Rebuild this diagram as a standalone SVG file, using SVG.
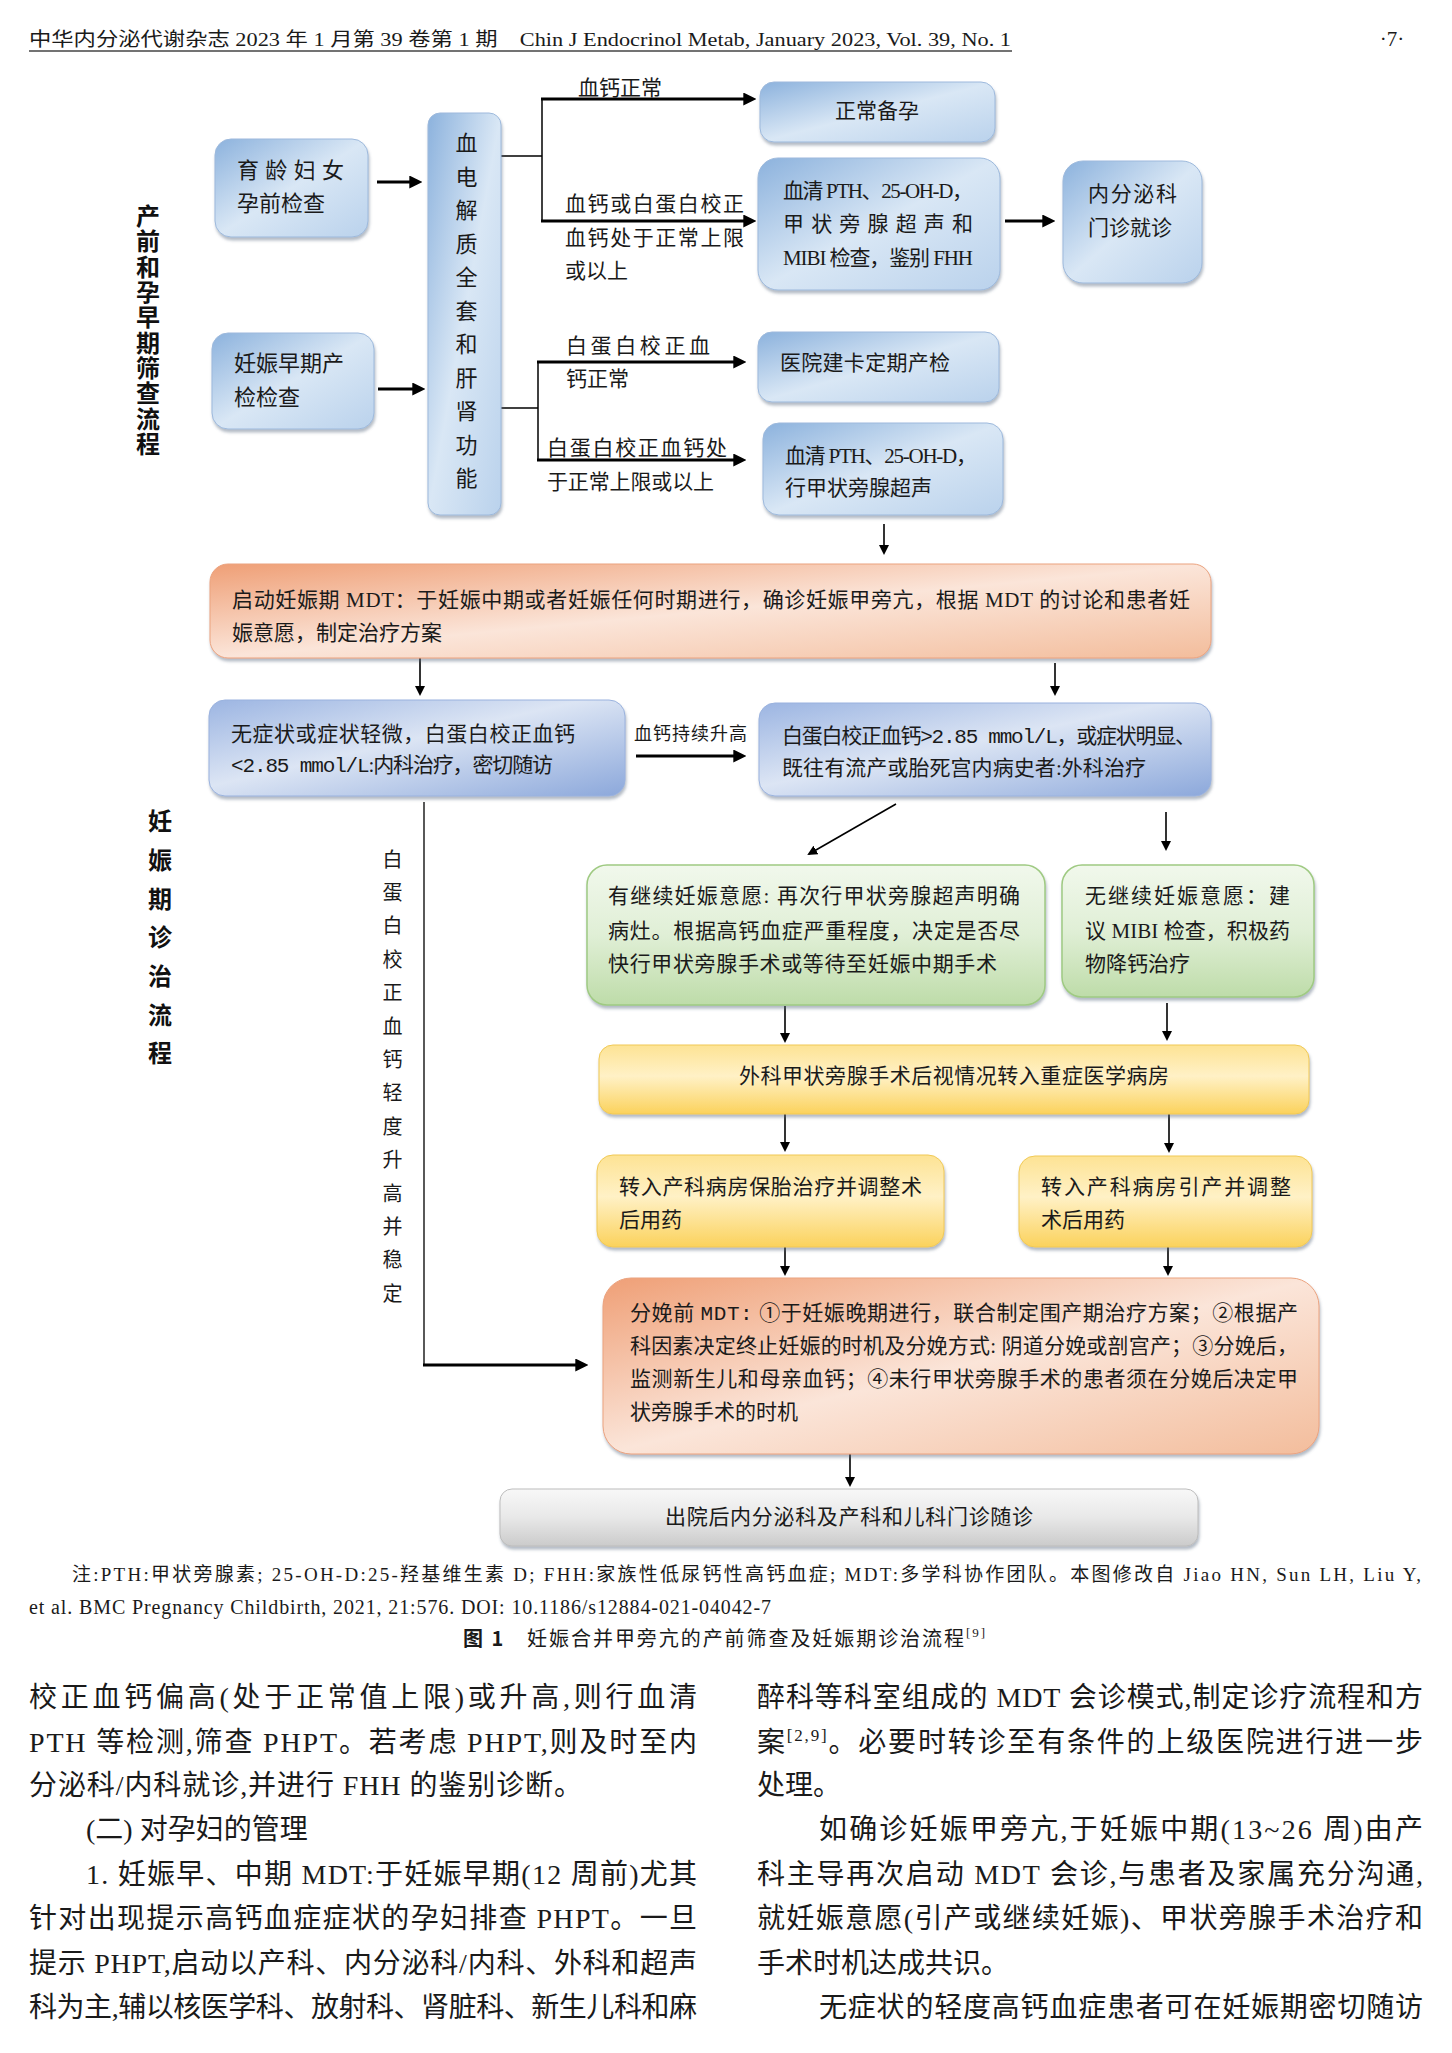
<svg xmlns="http://www.w3.org/2000/svg" width="1452" height="2053" viewBox="0 0 1452 2053">
<defs>
<style>
.t{font-family:'Liberation Serif','Noto Sans CJK SC',serif;fill:#1a1a1a}
.s21{font-size:21px}
.s22{font-size:22px}
.s18{font-size:18px}
.s20{font-size:20px}
.s19{font-size:19px}
.body{font-size:28px}
.ttl{font-family:'Noto Sans CJK SC',sans-serif;font-weight:700;font-size:24px;fill:#111}
.vt{writing-mode:vertical-rl}
.mono{font-family:'Liberation Mono','Noto Sans CJK SC',monospace}
.ln{stroke:#000;fill:none}
.thick{stroke-width:3}
.thin{stroke-width:1.6}
.bxb{fill:url(#gBlue);stroke:#9db9dc;stroke-width:1;filter:url(#sh)}
.bxb2{fill:url(#gBlue2);stroke:#9ab2de;stroke-width:1;filter:url(#sh)}
.bxo{fill:url(#gOr);stroke:#eba37f;stroke-width:1;filter:url(#sh)}
.bxg{fill:url(#gGr);stroke:#9fca82;stroke-width:1.5;filter:url(#sh)}
.bxy{fill:url(#gYe);stroke:#f0c955;stroke-width:1;filter:url(#sh)}
.bxgr{fill:url(#gGy);stroke:#bdbdbd;stroke-width:1;filter:url(#sh)}
</style>
<linearGradient id="gBlue" x1="0" y1="0" x2="1" y2="1">
<stop offset="0" stop-color="#8cb2dd"/><stop offset="0.5" stop-color="#d9e7f5"/><stop offset="1" stop-color="#bad2ec"/>
</linearGradient>
<linearGradient id="gBlue2" x1="0" y1="0" x2="1" y2="1">
<stop offset="0" stop-color="#9cb5e2"/><stop offset="0.45" stop-color="#dce5f4"/><stop offset="1" stop-color="#8ca8db"/>
</linearGradient>
<linearGradient id="gOr" x1="0" y1="0" x2="1" y2="1">
<stop offset="0" stop-color="#ef9f76"/><stop offset="0.5" stop-color="#fbe5d9"/><stop offset="1" stop-color="#f3bd9c"/>
</linearGradient>
<linearGradient id="gGr" x1="0" y1="0" x2="0" y2="1">
<stop offset="0" stop-color="#f1f8ec"/><stop offset="0.5" stop-color="#e0efd6"/><stop offset="1" stop-color="#bedca9"/>
</linearGradient>
<linearGradient id="gYe" x1="0" y1="0" x2="0" y2="1">
<stop offset="0" stop-color="#fde394"/><stop offset="0.45" stop-color="#fff1c6"/><stop offset="1" stop-color="#fbd25c"/>
</linearGradient>
<linearGradient id="gGy" x1="0" y1="0" x2="0" y2="1">
<stop offset="0" stop-color="#f8f8f8"/><stop offset="0.5" stop-color="#e8e8e8"/><stop offset="1" stop-color="#cbcbcb"/>
</linearGradient>
<filter id="sh" x="-5%" y="-10%" width="112%" height="130%">
<feDropShadow dx="1" dy="3" stdDeviation="1.5" flood-color="#56677f" flood-opacity="0.45"/>
</filter>
<marker id="ah" viewBox="0 0 12 12" refX="8" refY="6" markerWidth="13" markerHeight="13" markerUnits="userSpaceOnUse" orient="auto">
<path d="M0,0 L12,6 L0,12 z" fill="#000"/>
</marker>
<marker id="ahs" viewBox="0 0 10 10" refX="8" refY="5" markerWidth="10" markerHeight="11" markerUnits="userSpaceOnUse" orient="auto">
<path d="M0,0 L10,5 L0,10 z" fill="#000"/>
</marker>
</defs>
<rect x="0" y="0" width="1452" height="2053" fill="#fff"/>

<g id="header">
<text class="t" x="29" y="46" font-size="19" textLength="982" lengthAdjust="spacingAndGlyphs">中华内分泌代谢杂志 2023 年 1 月第 39 卷第 1 期　Chin J Endocrinol Metab, January 2023, Vol. 39, No. 1</text>
<line x1="29" y1="51" x2="1012" y2="51" stroke="#444" stroke-width="1.5"/>
<text class="t" x="1392" y="46" font-size="21" text-anchor="middle">·7·</text>
</g>

<g id="title-1">
<text class="ttl vt" x="148" y="204" letter-spacing="1.3">产前和孕早期筛查流程</text>
</g>

<g id="connectors">
<line class="ln thick" x1="377" y1="182" x2="418" y2="182" marker-end="url(#ah)"/>
<line class="ln thick" x1="378" y1="389" x2="421" y2="389" marker-end="url(#ah)"/>
<line class="ln" stroke-width="1.5" x1="501" y1="156" x2="542" y2="156"/>
<line class="ln" stroke-width="1.5" x1="542" y1="98" x2="542" y2="222"/>
<line class="ln thick" x1="541" y1="99" x2="752" y2="99" marker-end="url(#ah)"/>
<line class="ln thick" x1="541" y1="221" x2="752" y2="221" marker-end="url(#ah)"/>
<line class="ln" stroke-width="1.5" x1="501" y1="408" x2="538" y2="408"/>
<line class="ln" stroke-width="1.5" x1="538" y1="361" x2="538" y2="461"/>
<line class="ln thick" x1="537" y1="362" x2="742" y2="362" marker-end="url(#ah)"/>
<line class="ln thick" x1="537" y1="460" x2="742" y2="460" marker-end="url(#ah)"/>
<line class="ln thick" x1="1005" y1="221" x2="1051" y2="221" marker-end="url(#ah)"/>
<line class="ln thin" x1="884" y1="524" x2="884" y2="553" marker-end="url(#ahs)"/>
<line class="ln thin" x1="420" y1="658" x2="420" y2="694" marker-end="url(#ahs)"/>
<line class="ln thin" x1="1055" y1="663" x2="1055" y2="694" marker-end="url(#ahs)"/>
<line class="ln thick" x1="636" y1="756" x2="742" y2="756" marker-end="url(#ah)"/>
<line class="ln thin" x1="896" y1="804" x2="809" y2="854" marker-end="url(#ahs)"/>
<line class="ln thin" x1="1166" y1="812" x2="1166" y2="849" marker-end="url(#ahs)"/>
<polyline class="ln" stroke-width="1.3" points="424,802 424,1365 428,1365"/>
<line class="ln thick" x1="423" y1="1365" x2="584" y2="1365" marker-end="url(#ah)"/>
<line class="ln thin" x1="785" y1="1006" x2="785" y2="1041" marker-end="url(#ahs)"/>
<line class="ln thin" x1="1167" y1="1003" x2="1167" y2="1039" marker-end="url(#ahs)"/>
<line class="ln thin" x1="785" y1="1114" x2="785" y2="1150" marker-end="url(#ahs)"/>
<line class="ln thin" x1="1169" y1="1114" x2="1169" y2="1151" marker-end="url(#ahs)"/>
<line class="ln thin" x1="785" y1="1247" x2="785" y2="1274" marker-end="url(#ahs)"/>
<line class="ln thin" x1="1168" y1="1247" x2="1168" y2="1274" marker-end="url(#ahs)"/>
<line class="ln thin" x1="850" y1="1454" x2="850" y2="1485" marker-end="url(#ahs)"/>
</g>

<g id="labels">
<text class="t s21" x="578" y="95" textLength="84">血钙正常</text>
<text class="t s21" x="565" y="211" textLength="179">血钙或白蛋白校正</text>
<text class="t s21" x="565" y="245" textLength="179">血钙处于正常上限</text>
<text class="t s21" x="565" y="278">或以上</text>
<text class="t s21" x="566" y="353" textLength="144">白蛋白校正血</text>
<text class="t s21" x="566" y="386">钙正常</text>
<text class="t s21" x="547" y="455" textLength="180">白蛋白校正血钙处</text>
<text class="t s21" x="547" y="489" textLength="167">于正常上限或以上</text>
<text class="t s18" x="634" y="740" textLength="113">血钙持续升高</text>
<text class="t s20 vt" x="391" y="849" letter-spacing="13.4">白蛋白校正血钙轻度升高并稳定</text>
</g>

<g id="node-preconception">
<rect class="bxb" x="215" y="139" width="153" height="98" rx="16"/>
<text class="t s22" x="237" y="178" textLength="107">育龄妇女</text>
<text class="t s22" x="237" y="211">孕前检查</text>
</g>
<g id="node-early-pregnancy">
<rect class="bxb" x="212" y="333" width="162" height="96" rx="16"/>
<text class="t s22" x="234" y="371" textLength="110">妊娠早期产</text>
<text class="t s22" x="234" y="405">检检查</text>
</g>
<g id="node-blood-tests">
<rect class="bxb" x="428" y="113" width="73" height="402" rx="12"/>
<text class="t s22 vt" x="464" y="132" letter-spacing="11.5">血电解质全套和肝肾功能</text>
</g>
<g id="node-normal">
<rect class="bxb" x="760" y="82" width="235" height="60" rx="14"/>
<text class="t s21" x="877" y="118" text-anchor="middle">正常备孕</text>
</g>
<g id="node-pth1">
<rect class="bxb" x="758" y="158" width="242" height="132" rx="20"/>
<text class="t s21" x="783" y="198" textLength="190">血清 PTH、25-OH-D，</text>
<text class="t s21" x="783" y="231" textLength="190">甲状旁腺超声和</text>
<text class="t s21" x="783" y="265" textLength="190">MIBI 检查，鉴别 FHH</text>
</g>
<g id="node-endo">
<rect class="bxb" x="1063" y="161" width="139" height="122" rx="20"/>
<text class="t s21" x="1088" y="201" textLength="89">内分泌科</text>
<text class="t s21" x="1088" y="235">门诊就诊</text>
</g>
<g id="node-prenatal">
<rect class="bxb" x="758" y="332" width="241" height="70" rx="14"/>
<text class="t s21" x="780" y="370" textLength="170">医院建卡定期产检</text>
</g>
<g id="node-pth2">
<rect class="bxb" x="763" y="423" width="240" height="92" rx="16"/>
<text class="t s21" x="785" y="463" textLength="192">血清 PTH、25-OH-D，</text>
<text class="t s21" x="785" y="495">行甲状旁腺超声</text>
</g>

<g id="title-2">
<text class="ttl vt" x="160" y="809" letter-spacing="14.7">妊娠期诊治流程</text>
</g>

<g id="node-mdt1">
<rect class="bxo" x="210" y="564" width="1001" height="94" rx="18"/>
<text class="t s21" x="232" y="607" textLength="958">启动妊娠期 MDT：于妊娠中期或者妊娠任何时期进行，确诊妊娠甲旁亢，根据 MDT 的讨论和患者妊</text>
<text class="t s21" x="232" y="640">娠意愿，制定治疗方案</text>
</g>
<g id="node-medical">
<rect class="bxb2" x="209" y="700" width="416" height="96" rx="16"/>
<text class="t s21" x="231" y="741" textLength="344">无症状或症状轻微，白蛋白校正血钙</text>
<text class="t s21" x="231" y="772" textLength="322"><tspan class="mono">&lt;2.85 mmol/L</tspan>:内科治疗，密切随访</text>
</g>
<g id="node-surgical">
<rect class="bxb2" x="759" y="703" width="452" height="93" rx="16"/>
<text class="t s21" x="782" y="743" textLength="414">白蛋白校正血钙<tspan class="mono">&gt;2.85 mmol/L</tspan>，或症状明显、</text>
<text class="t s21" x="782" y="775" textLength="364">既往有流产或胎死宫内病史者:外科治疗</text>
</g>
<g id="node-continue">
<rect class="bxg" x="587" y="865" width="458" height="140" rx="20"/>
<text class="t s21" x="608" y="903" textLength="412">有继续妊娠意愿: 再次行甲状旁腺超声明确</text>
<text class="t s21" x="608" y="938" textLength="412">病灶。根据高钙血症严重程度，决定是否尽</text>
<text class="t s21" x="608" y="971" textLength="389">快行甲状旁腺手术或等待至妊娠中期手术</text>
</g>
<g id="node-terminate">
<rect class="bxg" x="1062" y="865" width="252" height="132" rx="20"/>
<text class="t s21" x="1085" y="903" textLength="205">无继续妊娠意愿：建</text>
<text class="t s21" x="1085" y="938" textLength="205">议 MIBI 检查，积极药</text>
<text class="t s21" x="1085" y="971">物降钙治疗</text>
</g>
<g id="node-icu">
<rect class="bxy" x="599" y="1045" width="710" height="69" rx="14"/>
<text class="t s21" x="954" y="1083" text-anchor="middle" textLength="430">外科甲状旁腺手术后视情况转入重症医学病房</text>
</g>
<g id="node-keep">
<rect class="bxy" x="597" y="1155" width="347" height="92" rx="16"/>
<text class="t s21" x="619" y="1194" textLength="303">转入产科病房保胎治疗并调整术</text>
<text class="t s21" x="619" y="1227">后用药</text>
</g>
<g id="node-induce">
<rect class="bxy" x="1019" y="1156" width="293" height="91" rx="16"/>
<text class="t s21" x="1041" y="1194" textLength="250">转入产科病房引产并调整</text>
<text class="t s21" x="1041" y="1227">术后用药</text>
</g>
<g id="node-mdt2">
<rect class="bxo" x="603" y="1278" width="716" height="176" rx="28"/>
<text class="t s21" x="630" y="1320" textLength="668">分娩前 <tspan class="mono">MDT:</tspan> ①于妊娠晚期进行，联合制定围产期治疗方案；②根据产</text>
<text class="t s21" x="630" y="1353" textLength="668">科因素决定终止妊娠的时机及分娩方式: 阴道分娩或剖宫产；③分娩后，</text>
<text class="t s21" x="630" y="1386" textLength="668">监测新生儿和母亲血钙；④未行甲状旁腺手术的患者须在分娩后决定甲</text>
<text class="t s21" x="630" y="1419">状旁腺手术的时机</text>
</g>
<g id="node-followup">
<rect class="bxgr" x="500" y="1489" width="698" height="57" rx="12"/>
<text class="t s21" x="849" y="1524" text-anchor="middle" textLength="368">出院后内分泌科及产科和儿科门诊随诊</text>
</g>

<g id="notes">
<text class="t s19" x="72" y="1581" textLength="1349">注:PTH:甲状旁腺素; 25-OH-D:25-羟基维生素 D; FHH:家族性低尿钙性高钙血症; MDT:多学科协作团队。本图修改自 Jiao HN, Sun LH, Liu Y,</text>
<text class="t" font-size="20" x="29" y="1614" textLength="742">et al. BMC Pregnancy Childbirth, 2021, 21:576. DOI: 10.1186/s12884-021-04042-7</text>
<text class="t" font-size="20" x="463" y="1646" textLength="522"><tspan font-family="'Noto Sans CJK SC',sans-serif" font-weight="700">图 1</tspan>　妊娠合并甲旁亢的产前筛查及妊娠期诊治流程<tspan font-size="13" dy="-9">[9]</tspan></text>
</g>

<g id="body-text">
<text class="t body" x="29" y="1707" textLength="668">校正血钙偏高(处于正常值上限)或升高,则行血清</text>
<text class="t body" x="29" y="1752" textLength="668">PTH 等检测,筛查 PHPT。若考虑 PHPT,则及时至内</text>
<text class="t body" x="29" y="1795" textLength="553">分泌科/内科就诊,并进行 FHH 的鉴别诊断。</text>
<text class="t body" x="86" y="1839">(二) 对孕妇的管理</text>
<text class="t body" x="86" y="1884" textLength="611">1. 妊娠早、中期 MDT:于妊娠早期(12 周前)尤其</text>
<text class="t body" x="29" y="1928" textLength="668">针对出现提示高钙血症症状的孕妇排查 PHPT。一旦</text>
<text class="t body" x="29" y="1973" textLength="668">提示 PHPT,启动以产科、内分泌科/内科、外科和超声</text>
<text class="t body" x="29" y="2017" textLength="668">科为主,辅以核医学科、放射科、肾脏科、新生儿科和麻</text>
<text class="t body" x="757" y="1707" textLength="666">醉科等科室组成的 MDT 会诊模式,制定诊疗流程和方</text>
<text class="t body" x="757" y="1752" textLength="666">案<tspan font-size="17" dy="-11">[2,9]</tspan><tspan dy="11">。必要时转诊至有条件的上级医院进行进一步</tspan></text>
<text class="t body" x="757" y="1795">处理。</text>
<text class="t body" x="819" y="1839" textLength="604">如确诊妊娠甲旁亢,于妊娠中期(13~26 周)由产</text>
<text class="t body" x="757" y="1884" textLength="666">科主导再次启动 MDT 会诊,与患者及家属充分沟通,</text>
<text class="t body" x="757" y="1928" textLength="666">就妊娠意愿(引产或继续妊娠)、甲状旁腺手术治疗和</text>
<text class="t body" x="757" y="1973">手术时机达成共识。</text>
<text class="t body" x="819" y="2017" textLength="604">无症状的轻度高钙血症患者可在妊娠期密切随访</text>
</g>
</svg>
